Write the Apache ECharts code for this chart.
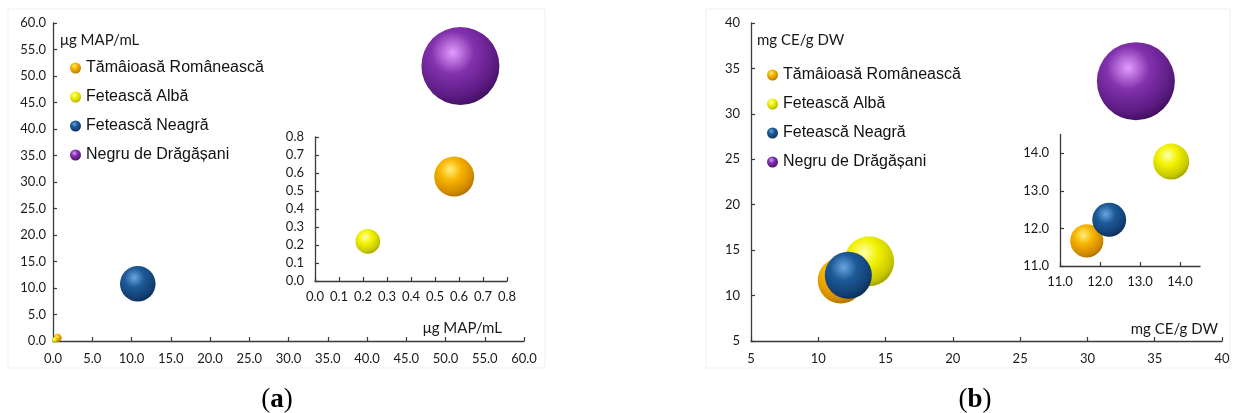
<!DOCTYPE html>
<html>
<head>
<meta charset="utf-8">
<script src="https://cdn.jsdelivr.net/npm/echarts@6/dist/echarts.min.js"></script>
<style>
  html, body { margin: 0; padding: 0; background: #ffffff; }
  #chart { width: 1234px; height: 413px; }
</style>
</head>
<body>
<div id="chart"></div>
<script>
// Wine varieties, shown in the same order in both panels
const wines = ['Tămâioasă Românească', 'Fetească Albă', 'Fetească Neagră', 'Negru de Drăgășani'];

// (a) antioxidant capacity, μg MAP/mL
const mapValues = [0.58, 0.22, 10.8, 51.9];
// (b) flavanol content, mg CE/g DW
const ceValues = [11.67, 13.78, 12.23, 33.6];

// wines repeated in the zoomed inset of each panel
const insetWinesA = [0, 1];
const insetWinesB = [0, 1, 2];

// axis ranges: [min, max, step]
const axisMainA = [0, 60, 5];
const axisInsetA = [0, 0.8, 0.1];
const axisMainB = [5, 40, 5];
const axisInsetB = [11, 14.5, 1];
const insetTicksB = [11, 12, 13, 14];

// unit captions
const unitA = 'μg MAP/mL';
const unitB = 'mg CE/g DW';

// shaded sphere colours: [highlight, body, shadow, rim]
const sphereColours = [
  ['#fff07a', '#f8b400', '#d08a00', '#a86a00'],
  ['#ffffb0', '#f2f200', '#c8c800', '#9a9a00'],
  ['#6aa6e0', '#1d5a98', '#123f72', '#0a2748'],
  ['#e39cff', '#8232ad', '#5a1a80', '#3a0d58']
];

function sphere(i) {
  const c = sphereColours[i];
  return {
    type: 'radial', x: 0.4, y: 0.33, r: 0.72,
    colorStops: [
      { offset: 0, color: c[0] },
      { offset: 0.38, color: c[1] },
      { offset: 0.8, color: c[2] },
      { offset: 1, color: c[3] }
    ]
  };
}

const FONT_AXIS = 'Lato, "Open Sans", sans-serif';
const FONT_LEGEND = '"Liberation Sans", Arial, sans-serif';
const INK = '#1a1a1a';

function valueAxis(gridIndex, range, decimals, margin) {
  return {
    type: 'value',
    gridIndex: gridIndex,
    min: range[0],
    max: range[1],
    interval: range[2],
    splitLine: { show: false },
    axisLine: { show: true, onZero: false, lineStyle: { color: '#3a3a3a', width: 1.3 } },
    axisTick: { show: true, inside: true, length: 4, lineStyle: { color: '#3a3a3a', width: 1.2 } },
    axisLabel: {
      margin: margin,
      color: INK,
      fontFamily: FONT_AXIS,
      fontSize: 13,
      formatter: v => v.toFixed(decimals)
    }
  };
}

// bubble diameter grows with the square root of the value (area-proportional)
function bubbleSeries(name, i, value, gridIndex, maxValue, maxDiameter) {
  return {
    type: 'scatter',
    name: name,
    xAxisIndex: gridIndex,
    yAxisIndex: gridIndex,
    data: [[value, value, value]],
    symbol: 'circle',
    symbolSize: d => maxDiameter * Math.sqrt(d[2] / maxValue),
    itemStyle: { color: sphere(i), opacity: 1 },
    clip: false,
    silent: true
  };
}

const series = [];
const maxA = Math.max(...mapValues);
const maxB = Math.max(...ceValues);
const maxInsetA = Math.max(...insetWinesA.map(i => mapValues[i]));
const maxInsetB = Math.max(...insetWinesB.map(i => ceValues[i]));

wines.forEach((w, i) => series.push(bubbleSeries(w, i, mapValues[i], 0, maxA, 78)));
insetWinesA.forEach(i => series.push(bubbleSeries(wines[i], i, mapValues[i], 1, maxInsetA, 40)));
wines.forEach((w, i) => series.push(bubbleSeries(w, i, ceValues[i], 2, maxB, 78)));
insetWinesB.forEach(i => series.push(bubbleSeries(wines[i], i, ceValues[i], 3, maxInsetB, 36)));

function legendAt(left, top) {
  return {
    orient: 'vertical',
    left: left,
    top: top,
    itemWidth: 11,
    itemHeight: 11,
    itemGap: 11,
    icon: 'circle',
    selectedMode: false,
    textStyle: { fontFamily: FONT_LEGEND, fontSize: 16, color: '#111', lineHeight: 18 },
    data: wines.map((w, i) => ({ name: w, icon: 'circle', itemStyle: { color: sphere(i), opacity: 1 } }))
  };
}

function unitText(x, y, text, align) {
  return {
    type: 'text', x: x, y: y,
    style: { text: text, fill: INK, font: '15px ' + FONT_AXIS, align: align, verticalAlign: 'middle' }
  };
}

function panelTag(x, y, letter) {
  return {
    type: 'text', x: x, y: y,
    style: {
      text: '{p|(}{b|' + letter + '}{p|)}',
      align: 'center', verticalAlign: 'middle',
      rich: {
        p: { fontFamily: '"Liberation Serif", serif', fontSize: 27, fill: '#000' },
        b: { fontFamily: '"Liberation Serif", serif', fontSize: 27, fontWeight: 'bold', fill: '#000' }
      }
    }
  };
}

const option = {
  backgroundColor: '#ffffff',
  animation: false,
  grid: [
    { left: 53, top: 23, width: 471, height: 318 },
    { left: 315, top: 137, width: 192, height: 144 },
    { left: 751, top: 23, width: 471, height: 318 },
    { left: 1060, top: 134.5, width: 140, height: 131.5 }
  ],
  xAxis: [
    valueAxis(0, axisMainA, 1, 11),
    valueAxis(1, axisInsetA, 1, 9),
    valueAxis(2, axisMainB, 0, 11),
    valueAxis(3, axisInsetB, 1, 9)
  ],
  yAxis: [
    valueAxis(0, axisMainA, 1, 7),
    valueAxis(1, axisInsetA, 1, 11),
    valueAxis(2, axisMainB, 0, 11),
    valueAxis(3, axisInsetB, 1, 11)
  ],
  legend: [legendAt(65, 54), legendAt(762, 61)],
  graphic: [
    { type: 'rect', shape: { x: 8, y: 9, width: 537, height: 359 }, style: { fill: 'none', stroke: '#f1f1f1', lineWidth: 1 }, silent: true },
    { type: 'rect', shape: { x: 706, y: 9, width: 524, height: 359 }, style: { fill: 'none', stroke: '#f1f1f1', lineWidth: 1 }, silent: true },
    unitText(60, 40, unitA, 'left'),
    unitText(502, 328, unitA, 'right'),
    unitText(757, 40, unitB, 'left'),
    unitText(1218, 329, unitB, 'right'),
    panelTag(277, 400, 'a'),
    panelTag(975, 400, 'b')
  ],
  series: series
};

// inset of panel (b) ends at 14.5 but only whole-number ticks are marked
[option.xAxis[3], option.yAxis[3]].forEach(ax => {
  ax.axisTick.customValues = insetTicksB;
  ax.axisLabel.customValues = insetTicksB;
});

const chart = echarts.init(document.getElementById('chart'), null, { renderer: 'canvas' });
chart.setOption(option);
</script>
</body>
</html>
